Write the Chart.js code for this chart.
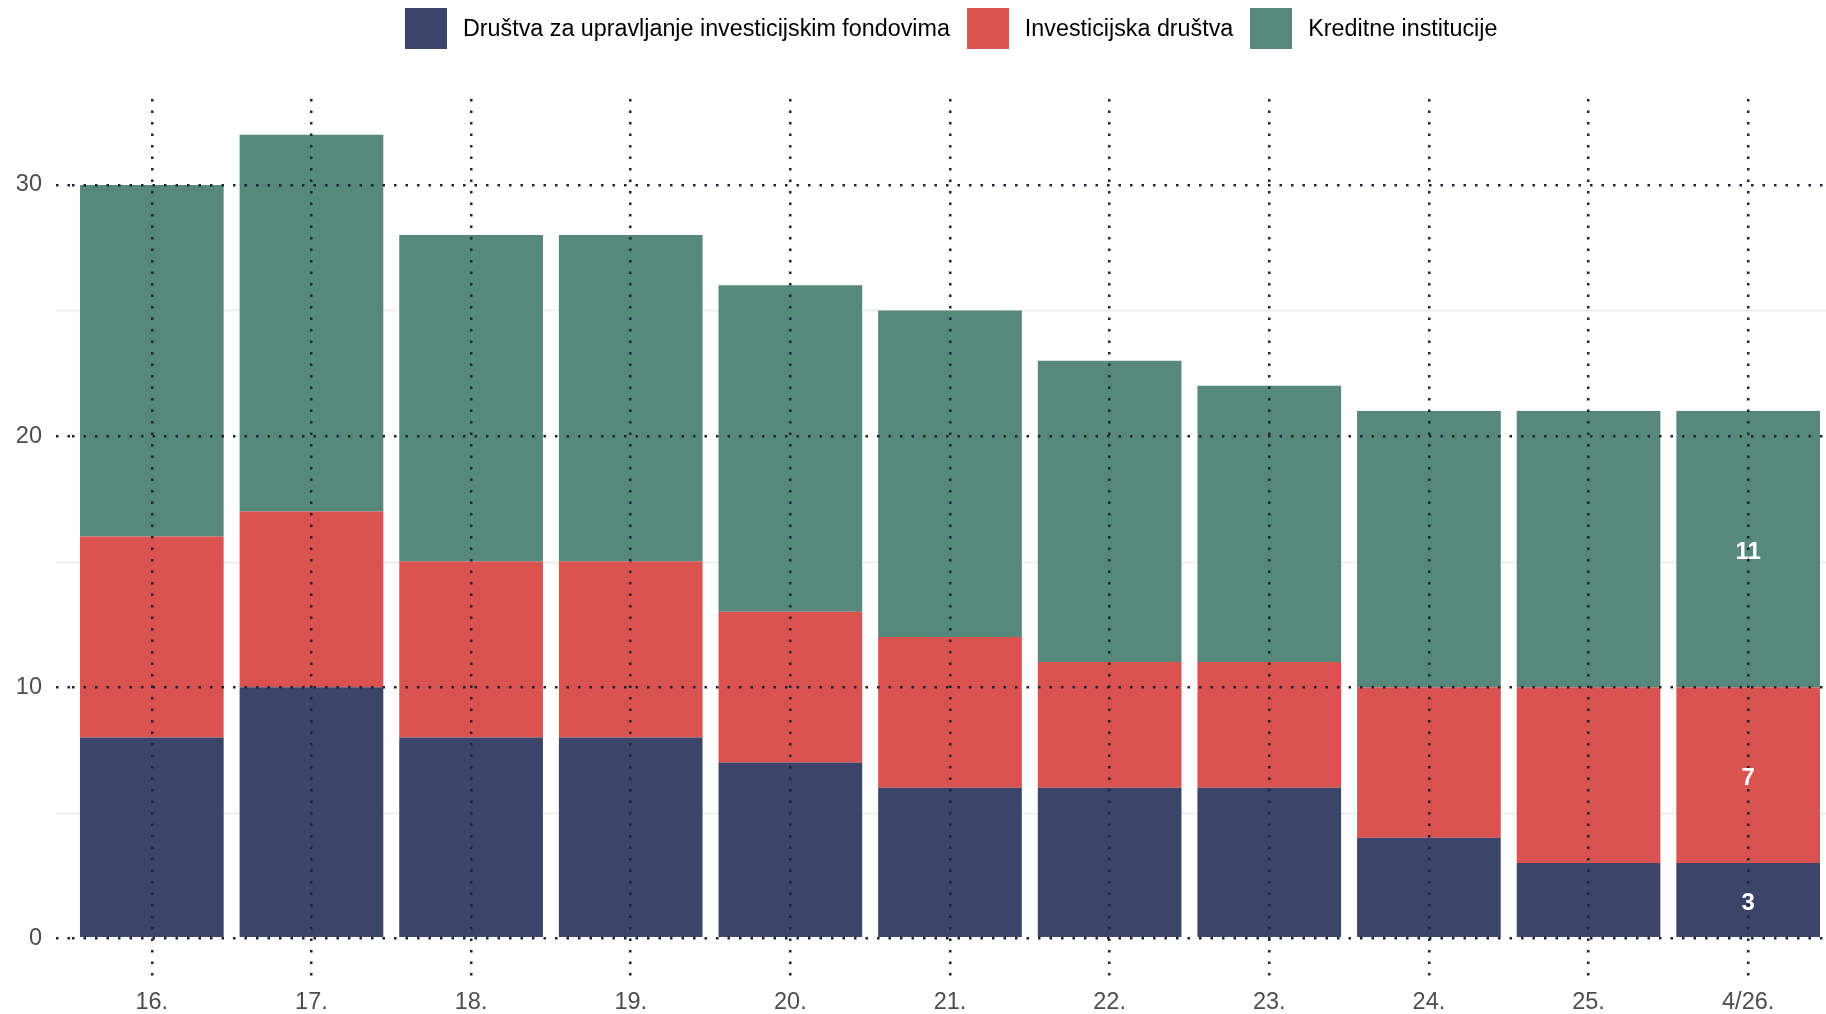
<!DOCTYPE html>
<html>
<head>
<meta charset="utf-8">
<script src="https://cdn.jsdelivr.net/npm/chart.js@4.4.1/dist/chart.umd.min.js"></script>
<style>
  html, body { margin: 0; padding: 0; background: #fff; overflow: hidden; width: 1826px; height: 1014px; }
  #wrap { position: relative; width: 1826px; height: 1014px; overflow: hidden; }
  #c { position: absolute; left: 0; top: 0; }
  #legend { position: absolute; left: 405px; top: 8px; display: flex; align-items: center; font-family: "Liberation Sans", Arial, sans-serif; font-size: 23.3px; color: #000; white-space: nowrap; }
  .box { width: 42px; height: 41px; margin-right: 16px; }
  .lbl { margin-right: 17px; }
</style>
</head>
<body>
<div id="wrap">
  <canvas id="c" width="1828" height="1014"></canvas>
  <div id="legend"></div>
</div>
<script>
const categories = ["16.", "17.", "18.", "19.", "20.", "21.", "22.", "23.", "24.", "25.", "4/26."];
const seriesNames = ["Društva za upravljanje investicijskim fondovima", "Investicijska društva", "Kreditne institucije"];
const drustvaUIF = [8, 10, 8, 8, 7, 6, 6, 6, 4, 3, 3];
const investicijska = [8, 7, 7, 7, 6, 6, 5, 5, 6, 7, 7];
const kreditne = [14, 15, 13, 13, 13, 13, 12, 11, 11, 11, 11];
const seriesColors = ["#3d4469", "#db5350", "#56887b"];
const majorTicks = [0, 10, 20, 30];
const minorTicks = [5, 15, 25];
const labelledIndex = categories.length - 1;

// HTML legend
const legendEl = document.getElementById('legend');
seriesNames.forEach((n, i) => {
  const b = document.createElement('div'); b.className = 'box'; b.style.background = seriesColors[i];
  const t = document.createElement('div'); t.className = 'lbl'; t.textContent = n;
  legendEl.appendChild(b); legendEl.appendChild(t);
});

const minorGrid = {
  id: 'minorGrid',
  beforeDatasetsDraw(chart) {
    const y = chart.scales.y, ca = chart.chartArea, ctx = chart.ctx;
    ctx.save();
    ctx.strokeStyle = '#ebebeb';
    ctx.lineWidth = 1.5;
    minorTicks.forEach(v => {
      const py = Math.round(y.getPixelForValue(v)) + 0.5;
      ctx.beginPath(); ctx.moveTo(ca.left - 16, py); ctx.lineTo(ca.right, py); ctx.stroke();
    });
    ctx.restore();
  }
};

const valueLabels = {
  id: 'valueLabels',
  afterDraw(chart) {
    const ctx = chart.ctx;
    ctx.save();
    ctx.fillStyle = '#ffffff';
    ctx.font = 'bold 24px "Liberation Sans", Arial, sans-serif';
    ctx.textAlign = 'center';
    ctx.textBaseline = 'middle';
    chart.data.datasets.forEach((ds, di) => {
      const el = chart.getDatasetMeta(di).data[labelledIndex];
      const p = el.getProps(['x', 'y', 'base'], true);
      ctx.fillText(String(ds.data[labelledIndex]), p.x, (p.y + p.base) / 2 + 3);
    });
    ctx.restore();
  }
};

const dotted = { color: '#1c2336', lineWidth: 2.5, dash: [2.5, 9] };

new Chart(document.getElementById('c'), {
  type: 'bar',
  data: {
    labels: categories,
    datasets: [
      { label: seriesNames[0], data: drustvaUIF, backgroundColor: seriesColors[0] },
      { label: seriesNames[1], data: investicijska, backgroundColor: seriesColors[1] },
      { label: seriesNames[2], data: kreditne, backgroundColor: seriesColors[2] }
    ]
  },
  options: {
    responsive: false,
    animation: false,
    devicePixelRatio: 1,
    layout: { padding: { top: 99, left: 0, right: 0, bottom: 0 } },
    datasets: { bar: { barPercentage: 0.9, categoryPercentage: 1.0, borderWidth: 0 } },
    plugins: { legend: { display: false }, tooltip: { enabled: false } },
    scales: {
      x: {
        stacked: true,
        offset: true,
        border: { display: false, dash: dotted.dash },
        grid: { z: 1, offset: false, drawTicks: false, color: dotted.color, lineWidth: dotted.lineWidth },
        ticks: { color: '#4d4d4d', font: { family: '"Liberation Sans", Arial, sans-serif', size: 23.5 }, padding: 10, maxRotation: 0 },
        afterFit(s) { s.height = 36; }
      },
      y: {
        stacked: true,
        min: -1.58,
        max: 33.42,
        border: { display: false, dash: dotted.dash },
        afterBuildTicks(s) { s.ticks = majorTicks.map(v => ({ value: v })); },
        afterFit(s) { s.width = 72; },
        grid: {
          z: 1,
          color: dotted.color, lineWidth: dotted.lineWidth,
          drawTicks: true, tickLength: 16, tickColor: dotted.color, tickWidth: dotted.lineWidth, tickBorderDash: dotted.dash
        },
        ticks: { color: '#4d4d4d', font: { family: '"Liberation Sans", Arial, sans-serif', size: 23.5 }, padding: 14 }
      }
    }
  },
  plugins: [minorGrid, valueLabels]
});
</script>
</body>
</html>
